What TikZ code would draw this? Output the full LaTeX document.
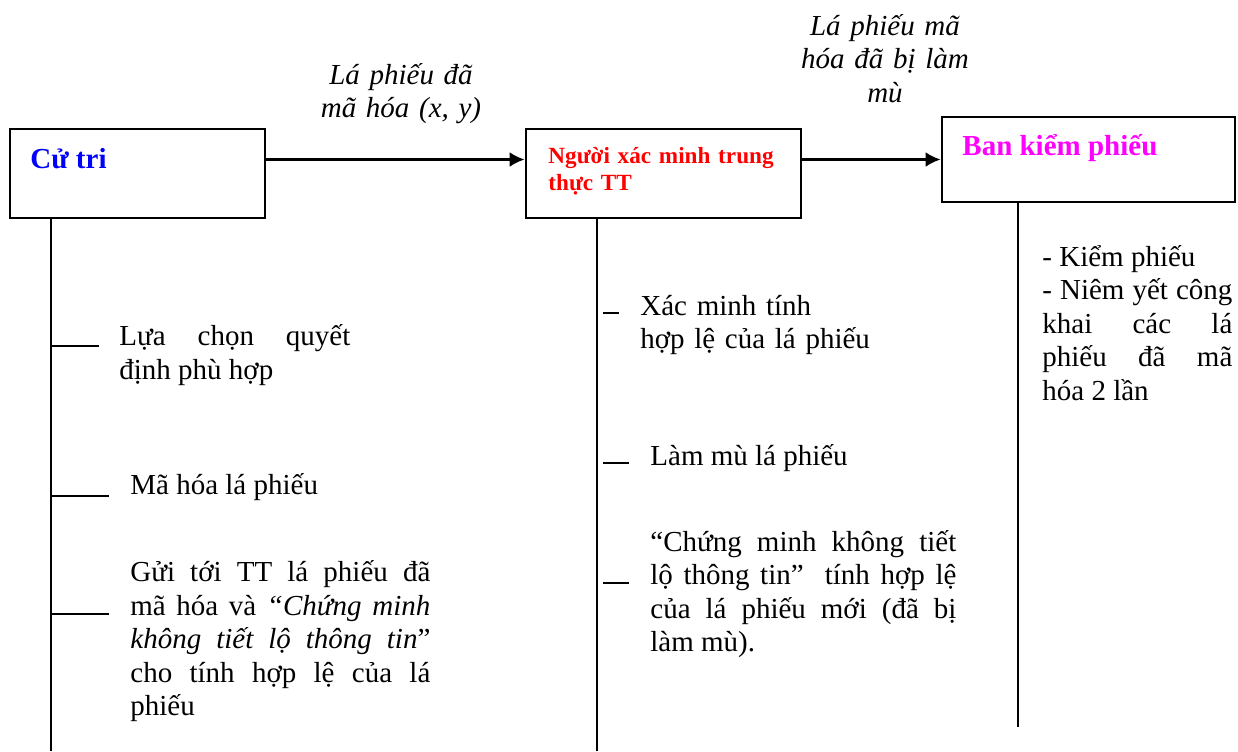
\documentclass[tikz,border=0pt]{standalone}
\usepackage{fontspec}
\setmainfont{Liberation Serif}
\usepackage{tikz}
\usetikzlibrary{arrows.meta}
\definecolor{xanh}{RGB}{0,0,255}
\definecolor{do}{RGB}{255,0,0}
\definecolor{tim}{RGB}{255,0,255}
\tikzset{>={Latex[length=7.5pt,width=7.5pt]}}
\tikzset{
  hop/.style={draw,line width=1.4pt,inner sep=0pt},
  truc/.style={line width=1.3pt},
  tieude/.style={font=\fontsize{14.5}{16.75}\selectfont\bfseries,inner sep=0pt,anchor=base west},
  noidung/.style={font=\fontsize{14.5}{16.75}\selectfont,inner sep=0pt,anchor=base west,align=justify,text width=150pt},
  nhan/.style={font=\fontsize{14.5}{16.75}\selectfont\itshape,inner sep=0pt,anchor=base,align=center}
}

\begin{document}
\begin{tikzpicture}[x=0.5pt,y=-0.5pt]
    \useasboundingbox (0,0) rectangle (1238,751);
    % ba khoi chinh
    \node[hop,minimum width=127.5pt,minimum height=44.5pt] (cutri) at (137.5,173.5) {};
    \node[hop,minimum width=137.5pt,minimum height=44.5pt] (xacminh) at (663.5,173.5) {};
    \node[hop,minimum width=146.5pt,minimum height=42.5pt] (bankiem) at (1088.5,159.5) {};
    \node[tieude,xanh] (tcutri) at (30,168) {Cử tri};
    \node[font=\fontsize{11.6}{13.9}\selectfont\bfseries,do,inner sep=0pt,anchor=base west,
          text width=120pt,align=left] (txacminh) at (548,163) {Người xác minh trung\\thực TT};
    \node[tieude,tim] (tbankiem) at (962,155) {Ban kiểm phiếu};
    % mui ten
    \draw[truc,->] (cutri.east |- bankiem.west) -- (xacminh.west |- bankiem.west);
    \draw[truc,->] (xacminh.east |- bankiem.west) -- (bankiem.west);
    \node[nhan,text width=85pt] (nhan1) at (401,84) {Lá phiếu đã\\mã hóa (x, y)};
    \node[nhan,text width=95pt] (nhan2) at (885,35) {Lá phiếu mã\\hóa đã bị làm\\mù};
    % truc doc
    \coordinate (cuoi1) at (51,751);
    \coordinate (cuoi2) at (597,751);
    \coordinate (cuoi3) at (1018,727);
    \draw[truc] (cuoi1 |- cutri.south) -- (cuoi1);
    \draw[truc] (cuoi2 |- xacminh.south) -- (cuoi2);
    \draw[truc] (cuoi3 |- bankiem.south) -- (cuoi3);
    \foreach \y/\x in {346/99,496/109,614/109}
      \draw[truc] (51,\y) -- (\x,\y);
    \foreach \y/\x in {313/619,463/629,583/629}
      \draw[truc] (603,\y) -- (\x,\y);
    % cac buoc
    \node[noidung,text width=115.5pt] (luachon) at (119,345.5) {Lựa chọn quyết\linebreak định phù hợp};
    \node[noidung] (mahoa) at (130,494) {Mã hóa lá phiếu};
    \node[noidung] (gui) at (130,581.5) {Gửi tới TT lá phiếu đã\linebreak mã hóa và \textit{“Chứng minh\linebreak không tiết lộ thông tin}”\linebreak cho tính hợp lệ của lá\linebreak phiếu};
    \node[noidung,align=left,text width=120pt] (kiemtra) at (640,315) {Xác minh tính\\hợp lệ của lá phiếu};
    \node[noidung,text width=153pt] (lammu) at (650,465) {Làm mù lá phiếu};
    \node[noidung,text width=153pt] (chungminh) at (650,551) {“Chứng minh không tiết\linebreak lộ thông tin”\ \ tính hợp lệ\linebreak của lá phiếu mới (đã bị\linebreak làm mù).};
    \node[noidung,text width=95pt] (congbo) at (1042,266) {- Kiểm phiếu\\- Niêm yết công\linebreak khai các lá\linebreak phiếu đã mã\linebreak hóa 2 lần};
\end{tikzpicture}
\end{document}
